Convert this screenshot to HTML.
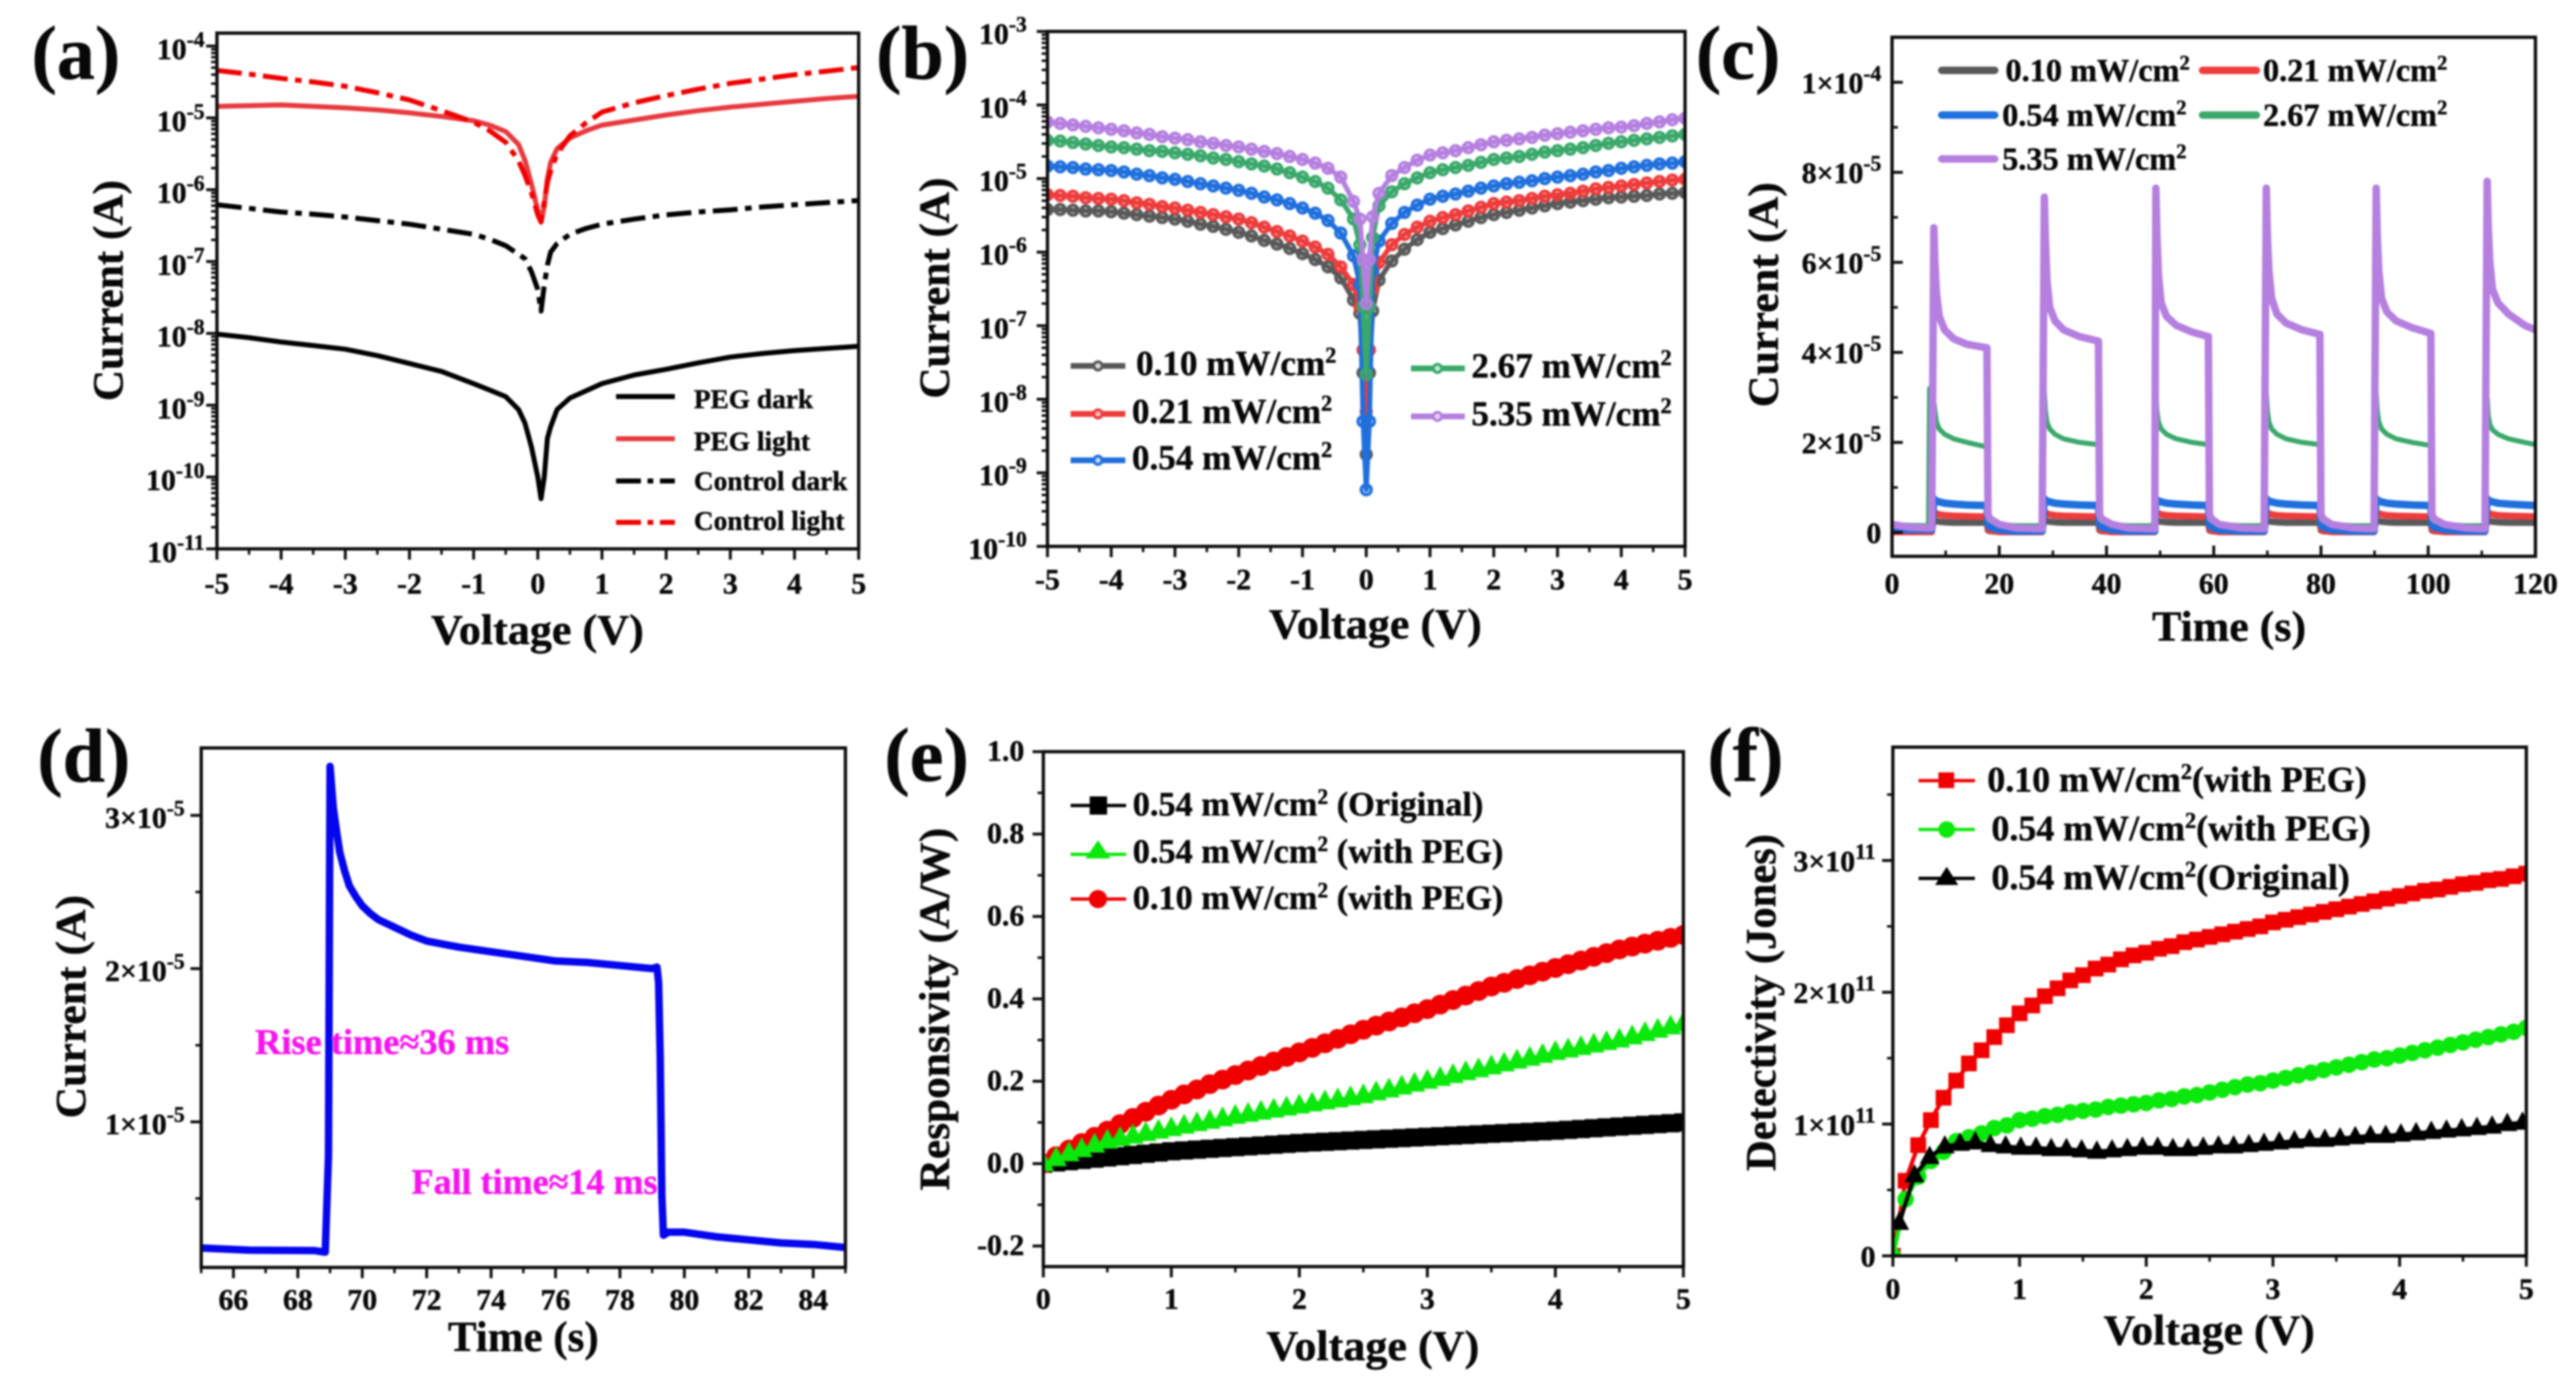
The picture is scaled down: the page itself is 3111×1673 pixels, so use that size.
<!DOCTYPE html>
<html lang="en">
<head>
<meta charset="utf-8">
<title>Photodetector characteristics, panels a to f</title>
<style>
  html, body { margin: 0; padding: 0; background: #fff; width: 3111px; height: 1673px; overflow: hidden; }
  svg { display: block; filter: blur(1.1px); }
  text { font-family: "Liberation Serif", serif; font-weight: 700; fill: #080808; stroke: #080808; stroke-width: 0.5px; }
  .panel-label { font-size: 92px; }
  .axis-title { font-size: 52px; }
  .tick-label { font-size: 36px; }
  .note { fill: #f614ee; stroke: #f614ee; }
</style>
</head>
<body>
<svg id="figure" xmlns="http://www.w3.org/2000/svg" width="3111" height="1673" viewBox="0 0 3111 1673">
  <rect x="0" y="0" width="3111" height="1673" fill="#fff"/>

  <g id="panel-a"></g>
  <g id="panel-b"></g>
  <g id="panel-c"></g>
  <g id="panel-d"></g>
  <g id="panel-e"></g>
  <g id="panel-f"></g>

  <!-- Panel labels -->
  <text class="panel-label" x="38" y="95">(a)</text>
  <text class="panel-label" x="1058" y="95">(b)</text>
  <text class="panel-label" x="2048" y="95">(c)</text>
  <text class="panel-label" x="45" y="944">(d)</text>
  <text class="panel-label" x="1068" y="943">(e)</text>
  <text class="panel-label" x="2062" y="943">(f)</text>

  <!-- Axis titles -->
  <text class="axis-title" x="649" y="778" text-anchor="middle" textLength="257" lengthAdjust="spacingAndGlyphs">Voltage (V)</text>
  <text class="axis-title" transform="translate(148 351) rotate(-90)" text-anchor="middle" textLength="267" lengthAdjust="spacingAndGlyphs">Current (A)</text>
  <text class="axis-title" x="1661" y="771" text-anchor="middle" textLength="257" lengthAdjust="spacingAndGlyphs">Voltage (V)</text>
  <text class="axis-title" transform="translate(1146 348) rotate(-90)" text-anchor="middle" textLength="267" lengthAdjust="spacingAndGlyphs">Current (A)</text>
  <text class="axis-title" x="2692" y="774" text-anchor="middle" textLength="186" lengthAdjust="spacingAndGlyphs">Time (s)</text>
  <text class="axis-title" transform="translate(2147 356) rotate(-90)" text-anchor="middle" textLength="272" lengthAdjust="spacingAndGlyphs">Current (A)</text>
  <text class="axis-title" x="632" y="1632" text-anchor="middle" textLength="182" lengthAdjust="spacingAndGlyphs">Time (s)</text>
  <text class="axis-title" transform="translate(103 1216) rotate(-90)" text-anchor="middle" textLength="270" lengthAdjust="spacingAndGlyphs">Current (A)</text>
  <text class="axis-title" x="1658" y="1643" text-anchor="middle" textLength="257" lengthAdjust="spacingAndGlyphs">Voltage (V)</text>
  <text class="axis-title" transform="translate(1146 1219) rotate(-90)" text-anchor="middle" textLength="438" lengthAdjust="spacingAndGlyphs">Responsivity (A/W)</text>
  <text class="axis-title" x="2668" y="1624" text-anchor="middle" textLength="255" lengthAdjust="spacingAndGlyphs">Voltage (V)</text>
  <text class="axis-title" transform="translate(2144 1211) rotate(-90)" text-anchor="middle" textLength="407" lengthAdjust="spacingAndGlyphs">Detectivity (Jones)</text>

  <!-- Legend a -->
  <g>
    <line x1="744" y1="479" x2="815" y2="479" stroke="#000" stroke-width="6"/>
    <text x="838" y="493" font-size="33">PEG dark</text>
    <line x1="744" y1="530" x2="815" y2="530" stroke="#e8393f" stroke-width="6"/>
    <text x="838" y="544" font-size="33">PEG light</text>
    <line x1="744" y1="581" x2="815" y2="581" stroke="#000" stroke-width="6" stroke-dasharray="30 8 7 8"/>
    <text x="838" y="592" font-size="33">Control dark</text>
    <line x1="744" y1="631" x2="815" y2="631" stroke="#f00000" stroke-width="6" stroke-dasharray="30 8 7 8"/>
    <text x="838" y="640" font-size="33">Control light</text>
  </g>

  <!-- Legend b -->
  <g>
    <line x1="1293" y1="442" x2="1359" y2="442" stroke="#595959" stroke-width="7"/>
    <circle cx="1326" cy="442" r="5" fill="#ddd" stroke="#595959" stroke-width="3.5"/>
    <text x="1372" y="453" font-size="42.4">0.10 mW/cm<tspan font-size="27" dy="-15">2</tspan></text>
    <line x1="1293" y1="500" x2="1359" y2="500" stroke="#ee3b3b" stroke-width="7"/>
    <circle cx="1326" cy="500" r="5" fill="#fbb" stroke="#ee3b3b" stroke-width="3.5"/>
    <text x="1367" y="511" font-size="42.4">0.21 mW/cm<tspan font-size="27" dy="-15">2</tspan></text>
    <line x1="1293" y1="556" x2="1359" y2="556" stroke="#1f6fdd" stroke-width="7"/>
    <circle cx="1326" cy="556" r="5" fill="#bcd6f8" stroke="#1f6fdd" stroke-width="3.5"/>
    <text x="1367" y="567" font-size="42.4">0.54 mW/cm<tspan font-size="27" dy="-15">2</tspan></text>
    <line x1="1704" y1="445" x2="1769" y2="445" stroke="#3aa86b" stroke-width="7"/>
    <circle cx="1736" cy="445" r="5" fill="#c2ead4" stroke="#3aa86b" stroke-width="3.5"/>
    <text x="1777" y="456" font-size="42.4">2.67 mW/cm<tspan font-size="27" dy="-15">2</tspan></text>
    <line x1="1704" y1="503" x2="1769" y2="503" stroke="#b57fe0" stroke-width="7"/>
    <circle cx="1736" cy="503" r="5" fill="#e7d5f6" stroke="#b57fe0" stroke-width="3.5"/>
    <text x="1777" y="514" font-size="42.4">5.35 mW/cm<tspan font-size="27" dy="-15">2</tspan></text>
  </g>

  <!-- Legend c -->
  <g>
    <line x1="2345" y1="85" x2="2409" y2="85" stroke="#595959" stroke-width="9" stroke-linecap="round"/>
    <text x="2422" y="98" font-size="39">0.10 mW/cm<tspan font-size="25" dy="-14">2</tspan></text>
    <line x1="2660" y1="85" x2="2725" y2="85" stroke="#ee3b3b" stroke-width="9" stroke-linecap="round"/>
    <text x="2733" y="98" font-size="39">0.21 mW/cm<tspan font-size="25" dy="-14">2</tspan></text>
    <line x1="2345" y1="139" x2="2409" y2="139" stroke="#1f6fdd" stroke-width="9" stroke-linecap="round"/>
    <text x="2418" y="152" font-size="39">0.54 mW/cm<tspan font-size="25" dy="-14">2</tspan></text>
    <line x1="2660" y1="139" x2="2725" y2="139" stroke="#3aa86b" stroke-width="9" stroke-linecap="round"/>
    <text x="2733" y="152" font-size="39">2.67 mW/cm<tspan font-size="25" dy="-14">2</tspan></text>
    <line x1="2345" y1="192" x2="2409" y2="192" stroke="#b57fe0" stroke-width="9" stroke-linecap="round"/>
    <text x="2418" y="205" font-size="39">5.35 mW/cm<tspan font-size="25" dy="-14">2</tspan></text>
  </g>

  <!-- Panel d annotations -->
  <text class="note" x="308" y="1273" font-size="43" textLength="307" lengthAdjust="spacingAndGlyphs">Rise time≈36 ms</text>
  <text class="note" x="497" y="1442" font-size="43" textLength="297" lengthAdjust="spacingAndGlyphs">Fall time≈14 ms</text>

  <!-- Legend e -->
  <g>
    <line x1="1293" y1="973" x2="1360" y2="973" stroke="#000" stroke-width="4"/>
    <rect x="1316" y="962" width="21" height="22" fill="#000"/>
    <text x="1368" y="985" font-size="41.4">0.54 mW/cm<tspan font-size="26" dy="-14">2</tspan><tspan dy="14"> (Original)</tspan></text>
    <line x1="1293" y1="1032" x2="1360" y2="1032" stroke="#0be80b" stroke-width="4"/>
    <polygon points="1326,1015 1341,1037 1311,1037" fill="#0be80b"/>
    <text x="1368" y="1042" font-size="41.4">0.54 mW/cm<tspan font-size="26" dy="-14">2</tspan><tspan dy="14"> (with PEG)</tspan></text>
    <line x1="1293" y1="1086" x2="1360" y2="1086" stroke="#f00000" stroke-width="4"/>
    <circle cx="1326" cy="1086" r="11" fill="#f00000"/>
    <text x="1368" y="1098" font-size="41.4">0.10 mW/cm<tspan font-size="26" dy="-14">2</tspan><tspan dy="14"> (with PEG)</tspan></text>
  </g>

  <!-- Legend f -->
  <g>
    <line x1="2317" y1="943" x2="2385" y2="943" stroke="#f00000" stroke-width="4"/>
    <rect x="2341" y="933" width="19" height="19" fill="#f00000"/>
    <text x="2400" y="956" font-size="43.4">0.10 mW/cm<tspan font-size="27" dy="-15">2</tspan><tspan dy="15">(with PEG)</tspan></text>
    <line x1="2317" y1="1002" x2="2385" y2="1002" stroke="#0be80b" stroke-width="4"/>
    <circle cx="2351" cy="1002" r="10" fill="#0be80b"/>
    <text x="2405" y="1015" font-size="43.4">0.54 mW/cm<tspan font-size="27" dy="-15">2</tspan><tspan dy="15">(with PEG)</tspan></text>
    <line x1="2317" y1="1061" x2="2385" y2="1061" stroke="#000" stroke-width="4"/>
    <polygon points="2351,1047 2365,1069 2337,1069" fill="#000"/>
    <text x="2405" y="1074" font-size="43.4">0.54 mW/cm<tspan font-size="27" dy="-15">2</tspan><tspan dy="15">(Original)</tspan></text>
  </g>
</svg>

<script>
/* ---------- Panel a: log10(current) versus voltage ---------- */
const aVolts = [-5,-4.5,-4,-3.5,-3,-2.5,-2,-1.5,-1,-.75,-.5,-.3,-.2,-.1,0,.05,.1,.15,.2,.3,.5,.75,1,1.5,2,2.5,3,3.5,4,4.5,5];
const aPegDarkLog = [-8.01,-8.06,-8.12,-8.17,-8.22,-8.31,-8.42,-8.53,-8.7,-8.79,-8.88,-9.06,-9.25,-9.58,-10,-10.3,-10,-9.46,-9.3,-9.06,-8.9,-8.8,-8.7,-8.58,-8.5,-8.41,-8.33,-8.28,-8.24,-8.21,-8.18];
const aPegLightLog = [-4.84,-4.83,-4.82,-4.84,-4.86,-4.89,-4.93,-4.98,-5.04,-5.1,-5.19,-5.37,-5.59,-5.92,-6.29,-6.45,-6.23,-5.85,-5.62,-5.43,-5.28,-5.18,-5.1,-5.03,-4.96,-4.9,-4.85,-4.81,-4.77,-4.73,-4.7];
const aControlDarkLog = [-6.21,-6.26,-6.31,-6.34,-6.38,-6.43,-6.48,-6.55,-6.62,-6.69,-6.78,-6.9,-6.96,-7.14,-7.39,-7.69,-7.33,-7.05,-6.87,-6.75,-6.62,-6.54,-6.48,-6.41,-6.35,-6.31,-6.28,-6.24,-6.21,-6.18,-6.15];
const aControlLightLog = [-4.34,-4.39,-4.45,-4.5,-4.56,-4.65,-4.75,-4.9,-5.06,-5.18,-5.34,-5.6,-5.8,-6.04,-6.35,-6.45,-6.17,-5.9,-5.74,-5.5,-5.25,-5.07,-4.92,-4.79,-4.69,-4.6,-4.52,-4.46,-4.4,-4.35,-4.3];
const aYTickExponents = [-4,-5,-6,-7,-8,-9,-10,-11];
const vTicksFull = [-5,-4,-3,-2,-1,0,1,2,3,4,5];
const vMinorFull = [-4.5,-3.5,-2.5,-1.5,-.5,.5,1.5,2.5,3.5,4.5];

/* ---------- Panel b: log10(current) versus voltage, five irradiances ---------- */
const bVolts = [-5,-4.8,-4.6,-4.4,-4.2,-4,-3.8,-3.6,-3.4,-3.2,-3,-2.8,-2.6,-2.4,-2.2,-2,-1.8,-1.6,-1.4,-1.2,-1,-.8,-.6,-.4,-.2,
  -.1,-.05,0,.05,.1,
  .2,.4,.6,.8,1,1.2,1.4,1.6,1.8,2,2.2,2.4,2.6,2.8,3,3.2,3.4,3.6,3.8,4,4.2,4.4,4.6,4.8,5];
const bP010Log = [-5.42,-5.42,-5.43,-5.44,-5.44,-5.45,-5.47,-5.49,-5.51,-5.53,-5.55,-5.58,-5.62,-5.65,-5.69,-5.73,-5.78,-5.84,-5.89,-5.95,-6.02,-6.1,-6.2,-6.35,-6.65,
  -6.83,-7.64,-8.75,-7.64,-6.8,
  -6.38,-6.12,-5.96,-5.83,-5.73,-5.68,-5.63,-5.58,-5.53,-5.49,-5.46,-5.43,-5.4,-5.37,-5.34,-5.32,-5.3,-5.28,-5.26,-5.25,-5.24,-5.23,-5.21,-5.2,-5.19];
const bP021Log = [-5.22,-5.23,-5.24,-5.26,-5.27,-5.28,-5.3,-5.33,-5.35,-5.38,-5.4,-5.43,-5.46,-5.49,-5.52,-5.55,-5.6,-5.66,-5.72,-5.78,-5.85,-5.93,-6.03,-6.2,-6.44,
  -6.74,-7.33,-8.17,-7.33,-6.5,
  -6.14,-5.9,-5.76,-5.66,-5.58,-5.53,-5.49,-5.44,-5.39,-5.34,-5.32,-5.3,-5.27,-5.24,-5.22,-5.2,-5.17,-5.14,-5.12,-5.1,-5.08,-5.06,-5.04,-5.02,-5.01];
const bP054Log = [-4.83,-4.84,-4.85,-4.87,-4.88,-4.89,-4.91,-4.94,-4.96,-4.99,-5.01,-5.04,-5.07,-5.1,-5.13,-5.16,-5.2,-5.25,-5.29,-5.34,-5.4,-5.47,-5.57,-5.74,-6.05,
  -6.44,-8.3,-9.23,-8.3,-6.26,
  -5.85,-5.61,-5.46,-5.36,-5.28,-5.24,-5.21,-5.17,-5.13,-5.1,-5.07,-5.05,-5.03,-5,-4.98,-4.96,-4.94,-4.91,-4.89,-4.86,-4.84,-4.82,-4.8,-4.79,-4.77];
const bP267Log = [-4.48,-4.49,-4.51,-4.53,-4.55,-4.57,-4.58,-4.6,-4.62,-4.63,-4.65,-4.67,-4.69,-4.72,-4.74,-4.77,-4.8,-4.83,-4.87,-4.92,-4.98,-5.04,-5.13,-5.29,-5.55,
  -5.9,-6.74,-7.66,-6.74,-5.8,
  -5.37,-5.18,-5.07,-4.99,-4.92,-4.88,-4.85,-4.82,-4.78,-4.74,-4.72,-4.7,-4.67,-4.64,-4.62,-4.6,-4.58,-4.55,-4.52,-4.5,-4.48,-4.46,-4.44,-4.42,-4.4];
const bP535Log = [-4.23,-4.25,-4.27,-4.29,-4.31,-4.33,-4.35,-4.38,-4.4,-4.43,-4.45,-4.47,-4.5,-4.52,-4.55,-4.57,-4.6,-4.63,-4.66,-4.7,-4.74,-4.79,-4.86,-4.98,-5.31,
  -5.55,-6.1,-6.7,-6.1,-5.52,
  -5.2,-4.96,-4.85,-4.75,-4.68,-4.65,-4.62,-4.58,-4.54,-4.5,-4.48,-4.46,-4.44,-4.41,-4.39,-4.37,-4.35,-4.33,-4.31,-4.3,-4.28,-4.25,-4.23,-4.2,-4.18];
const bYTickExponents = [-3,-4,-5,-6,-7,-8,-9,-10];

/* ---------- Panel c: current (microamps) versus time, on/off cycles ---------- */
const cTime = [0,3,6.8,7,7.4,7.8,8,8.3,8.8,9.8,11.5,14,17.7,17.9,18.3,20,23,28,
  28.4,28.6,28.9,29.4,30.4,32,35,38.5,38.7,39.1,41,44,49,
  49.2,49.4,49.7,50.2,51.2,53,56,59,59.2,59.6,61,65,69.4,
  69.8,70,70.3,70.8,71.8,73.5,76.5,79.8,80,80.4,82,86,89.9,
  90.3,90.5,90.8,91.3,92.3,94,97,100.5,100.7,101.1,103,107,110.6,
  111,111.2,111.5,112,113,115,118,120];
const cP010 = [.2,.2,.2,.2,.2,3,2.7,2.5,2.4,2.3,2.2,2.2,2.2,.5,.3,.2,.2,.2,
  3,2.7,2.5,2.4,2.3,2.2,2.2,2.2,.5,.3,.2,.2,.2,
  3,2.7,2.5,2.4,2.3,2.2,2.2,2.2,.5,.3,.2,.2,.2,
  3,2.7,2.5,2.4,2.3,2.2,2.2,2.2,.5,.3,.2,.2,.2,
  3,2.7,2.5,2.4,2.3,2.2,2.2,2.2,.5,.3,.2,.2,.2,
  3,2.7,2.5,2.4,2.3,2.2,2.2,2.2];
const cP021 = [.1,.1,.1,.1,.1,4.6,4.4,4.2,4,3.8,3.7,3.6,3.5,.8,.4,.1,.1,.1,
  4.6,4.4,4.2,4,3.8,3.7,3.6,3.5,.8,.4,.1,.1,.1,
  4.6,4.4,4.2,4,3.8,3.7,3.6,3.5,.8,.4,.1,.1,.1,
  4.6,4.4,4.2,4,3.8,3.7,3.6,3.5,.8,.4,.1,.1,.1,
  4.6,4.4,4.2,4,3.8,3.7,3.6,3.5,.8,.4,.1,.1,.1,
  4.6,4.4,4.2,4,3.8,3.7,3.6,3.5];
const cP054 = [.6,.6,.6,.6,.6,7.5,7.2,7,6.8,6.5,6.3,6.1,6,1.8,1.2,.6,.3,.3,
  7.5,7.2,7,6.8,6.5,6.3,6.1,6,1.8,1.2,.6,.3,.3,
  7.5,7.2,7,6.8,6.5,6.3,6.1,6,1.8,1.2,.6,.3,.3,
  7.5,7.2,7,6.8,6.5,6.3,6.1,6,1.8,1.2,.6,.3,.3,
  7.5,7.2,7,6.8,6.5,6.3,6.1,6,1.8,1.2,.6,.3,.3,
  7.5,7.2,7,6.8,6.5,6.3,6.1,6];
const cP267 = [1.8,1.6,1.5,32,31,29,27,24.5,23,21.8,20.8,20,19,3,2.5,1.8,1.5,1.5,
  31.5,27,24.5,23,21.8,20.8,20,19.5,3,2.5,1.8,1.5,1.5,
  32,27,24.5,23,21.8,20.8,20,19.5,3,2.5,1.8,1.5,1.5,
  31,27,24.5,23,21.8,20.8,20,19.5,3,2.5,1.8,1.5,1.5,
  31,27,24.5,23,21.8,20.8,20,19.3,3,2.5,1.8,1.5,1.5,
  30,26,24,22.8,21.8,20.8,20,19.5];
const cP535 = [1.8,1.2,1,1,1,67.7,60,53,48,45,43,41.8,41,4,3,1.8,1,.8,
  74.5,65,56,50,47,45,43.5,42.5,4,3,1.8,1,.8,
  76.5,66,57,51,48,46,44.5,43.5,4,3,1.8,1,.8,
  76.5,66,58,52,48.5,46.5,45,44,4,3,1.8,1,.8,
  76.5,66,58,52,49,47,45.5,44.2,4,3,1.8,1,.8,
  78,68,60,54,51,48.5,46,45];
const cXTicks = [0,20,40,60,80,100,120];
const cXMinor = [10,30,50,70,90,110];
const cYTicks = [0,20,40,60,80,100];
const cYTickText = ["0","2×10","4×10","6×10","8×10","1×10"];
const cYTickSup = ["","-5","-5","-5","-5","-4"];
const cYMinor = [10,30,50,70,90];

/* ---------- Panel d: single pulse, current in units of 1e-5 A ---------- */
const dTime = [65,66.5,68.5,68.85,68.95,69,69.1,69.2,69.3,69.45,69.6,69.8,70,70.25,70.5,70.75,71,71.5,72,72.5,73,74,75,76,77,78,79,79.15,79.2,79.25,79.3,79.35,79.5,80,81,82,83,84,85];
const dCurrent = [.177,.163,.16,.15,.78,3.32,3.05,2.9,2.76,2.64,2.54,2.47,2.41,2.36,2.32,2.295,2.27,2.22,2.18,2.16,2.14,2.11,2.08,2.05,2.04,2.02,2,2.01,1.91,1.43,.52,.26,.28,.28,.25,.23,.21,.2,.18];
const dXTicks = [66,68,70,72,74,76,78,80,82,84];
const dXMinor = [65,67,69,71,73,75,77,79,81,83,85];
const dYTicks = [1,2,3];
const dYMinor = [.5,1.5,2.5];

/* ---------- Panel e: responsivity versus voltage ---------- */
const fineVolts = [0,.1,.2,.3,.4,.5,.6,.7,.8,.9,1,1.1,1.2,1.3,1.4,1.5,1.6,1.7,1.8,1.9,2,2.1,2.2,2.3,2.4,2.5,2.6,2.7,2.8,2.9,3,3.1,3.2,3.3,3.4,3.5,3.6,3.7,3.8,3.9,4,4.1,4.2,4.3,4.4,4.5,4.6,4.7,4.8,4.9,5];
const eOriginal = [0,.003,.006,.009,.012,.015,.018,.021,.024,.027,.03,.032,.034,.036,.038,.04,.042,.044,.046,.048,.05,.0515,.053,.0545,.056,.0575,.059,.0605,.062,.0635,.065,.0665,.068,.0695,.071,.0725,.074,.0755,.077,.0785,.08,.082,.084,.086,.088,.09,.092,.094,.096,.098,.1];
const ePeg054 = [0,.012,.024,.034,.045,.055,.061,.067,.073,.079,.085,.091,.097,.103,.109,.115,.12,.125,.13,.135,.14,.145,.15,.155,.16,.165,.172,.179,.186,.193,.2,.207,.214,.221,.228,.235,.242,.249,.256,.263,.27,.276,.282,.288,.294,.3,.308,.316,.324,.332,.34];
const ePeg010 = [0,.018,.034,.05,.065,.08,.096,.111,.126,.141,.155,.168,.18,.193,.204,.215,.226,.237,.248,.259,.27,.281,.292,.303,.314,.325,.335,.345,.355,.365,.375,.386,.397,.408,.419,.43,.439,.448,.457,.466,.475,.484,.493,.502,.511,.52,.527,.534,.541,.548,.555];
const eXTicks = [0,1,2,3,4,5];
const eXMinor = [.5,1.5,2.5,3.5,4.5];
const eYTicks = [-.2,0,.2,.4,.6,.8,1];
const eYTickText = ["-0.2","0.0","0.2","0.4","0.6","0.8","1.0"];
const eYMinor = [-.1,.1,.3,.5,.7,.9];

/* ---------- Panel f: detectivity (units of 1e11 Jones) versus voltage ---------- */
const fPeg010 = [0,.57,.84,1.03,1.2,1.33,1.46,1.56,1.66,1.75,1.84,1.9,1.97,2.03,2.09,2.13,2.18,2.21,2.25,2.28,2.3,2.33,2.35,2.38,2.4,2.42,2.44,2.46,2.48,2.5,2.53,2.55,2.57,2.59,2.61,2.63,2.65,2.67,2.69,2.71,2.73,2.75,2.77,2.78,2.8,2.82,2.83,2.85,2.86,2.88,2.9];
const fPeg054 = [0,.43,.6,.72,.79,.87,.9,.93,.97,.99,1.03,1.04,1.06,1.07,1.09,1.1,1.11,1.13,1.14,1.15,1.16,1.18,1.19,1.21,1.22,1.24,1.26,1.28,1.3,1.31,1.33,1.35,1.37,1.39,1.41,1.43,1.45,1.47,1.49,1.5,1.52,1.54,1.56,1.58,1.6,1.62,1.64,1.66,1.68,1.7,1.73];
const fOriginalVolts = [.05,.17,.29,.41,.53,.65,.77,.89,1.01,1.13,1.25,1.37,1.49,1.61,1.73,1.85,1.97,2.09,2.21,2.33,2.45,2.57,2.69,2.81,2.93,3.05,3.17,3.29,3.41,3.53,3.65,3.77,3.89,4.01,4.13,4.25,4.37,4.49,4.61,4.73,4.85,4.97];
const fOriginal = [.25,.61,.75,.83,.85,.86,.84,.83,.82,.82,.81,.81,.8,.79,.8,.81,.82,.82,.81,.81,.82,.83,.83,.84,.85,.86,.87,.88,.88,.89,.9,.91,.91,.92,.93,.94,.95,.96,.97,.98,1,1.01];
const fYTicks = [0,1,2,3];
const fYMinor = [.5,1.5,2.5,3.5];

/* ---------- Drawing helpers ---------- */
const NS = 'http://www.w3.org/2000/svg';
const INK = '#0d0d0d';

function make(tag, name, parent) {
  const el = document.createElementNS(NS, tag);
  
  
  parent.appendChild(el);
  return el;
}
function setAll(el, props) {
  for (const k in props) el.setAttribute(k, props[k]);
  return el;
}
function linear(d0, d1, r0, r1) {
  return v => r0 + (v - d0) * (r1 - r0) / (d1 - d0);
}
function buildPanel(id, box, xDomain, yDomain) {
  const g = document.getElementById(id);
  const x = linear(xDomain[0], xDomain[1], box.left, box.right);
  const y = linear(yDomain[0], yDomain[1], box.bottom, box.top);
  const clip = make('clipPath', id + '-clip', g);
  clip.setAttribute('id', id + '-clip');
  const clipRect = make('rect', id + '-clip-rect', clip);
  setAll(clipRect, {x: box.left, y: box.top, width: box.right - box.left, height: box.bottom - box.top});
  const plot = make('g', id + '-plot-area', g);
  plot.setAttribute('clip-path', 'url(#' + id + '-clip)');
  return {g, plot, x, y, box};
}
function drawFrame(p) {
  const r = make('rect', p.g.id + '-frame', p.g);
  setAll(r, {x: p.box.left, y: p.box.top, width: p.box.right - p.box.left, height: p.box.bottom - p.box.top, fill: 'none', stroke: INK, 'stroke-width': 4});
}
function drawLine(p, name, xs, ys, color, width, dash) {
  const pl = make('polyline', name, p.plot);
  const pts = xs.map((v, i) => p.x(v).toFixed(1) + ',' + p.y(ys[i]).toFixed(1)).join(' ');
  setAll(pl, {points: pts, fill: 'none', stroke: color, 'stroke-width': width, 'stroke-linejoin': 'round'});
  if (dash) pl.setAttribute('stroke-dasharray', dash);
}
function drawMarkers(p, name, kind, xs, ys, size, color, hollow) {
  xs.forEach((v, i) => {
    const cx = p.x(v), cy = p.y(ys[i]);
    let m;
    if (kind === 'circle') {
      m = make('circle', name, p.plot);
      setAll(m, {cx: cx, cy: cy, r: size});
    } else if (kind === 'square') {
      m = make('rect', name, p.plot);
      setAll(m, {x: cx - size, y: cy - size, width: size * 2, height: size * 2});
    } else {
      m = make('polygon', name, p.plot);
      m.setAttribute('points', cx + ',' + (cy - size * 1.15) + ' ' + (cx + size) + ',' + (cy + size * .7) + ' ' + (cx - size) + ',' + (cy + size * .7));
    }
    if (hollow) setAll(m, {fill: 'none', stroke: color, 'stroke-width': 4});
    else m.setAttribute('fill', color);
  });
}
function tickMark(p, name, x1, y1, x2, y2, width) {
  const t = make('line', name, p.g);
  setAll(t, {x1: x1, y1: y1, x2: x2, y2: y2, stroke: INK, 'stroke-width': width});
}
function xAxis(p, majors, minors, labels, baseline, dir) {
  const y0 = p.box.bottom;
  majors.forEach((v, i) => {
    tickMark(p, 'x-tick', p.x(v), y0, p.x(v), y0 + dir * 13, 3.5);
    const t = make('text', 'x-tick-label', p.g);
    setAll(t, {x: p.x(v), y: baseline, 'text-anchor': 'middle', class: 'tick-label'});
    t.textContent = labels[i];
  });
  minors.forEach(v => tickMark(p, 'x-minor-tick', p.x(v), y0, p.x(v), y0 + dir * 7, 3));
}
function yAxis(p, majors, minors, bases, sups, labelRight, baselineOffset, dir) {
  const x0 = p.box.left;
  majors.forEach((v, i) => {
    tickMark(p, 'y-tick', x0, p.y(v), x0 - dir * 13, p.y(v), 3.5);
    const t = make('text', 'y-tick-label', p.g);
    setAll(t, {x: labelRight, y: p.y(v) + baselineOffset, 'text-anchor': 'end', class: 'tick-label'});
    t.textContent = bases[i];
    if (sups[i]) {
      const s = make('tspan', 'y-tick-exponent', t);
      setAll(s, {'font-size': 26, dy: -15});
      s.textContent = sups[i];
    }
  });
  minors.forEach(v => tickMark(p, 'y-minor-tick', x0, p.y(v), x0 - dir * 7, p.y(v), 3));
}
const LOG_MINORS = [2,3,4,5,6,7,8,9];
function logMinorTicks(exponents) {
  const out = [];
  exponents.slice(1).forEach(e => LOG_MINORS.forEach(m => out.push(e + Math.log10(m))));
  return out;
}

/* ---------- Panel a ---------- */
const panelA = buildPanel('panel-a', {left: 262, right: 1037, top: 40, bottom: 663}, [-5, 5], [-11, -3.82]);
drawLine(panelA, 'curve-peg-dark', aVolts, aPegDarkLog, '#000', 6);
drawLine(panelA, 'curve-control-dark', aVolts, aControlDarkLog, '#000', 6, '30 9 8 9');
drawLine(panelA, 'curve-peg-light', aVolts, aPegLightLog, '#e8393f', 6);
drawLine(panelA, 'curve-control-light', aVolts, aControlLightLog, '#f00000', 6, '30 9 8 9');
xAxis(panelA, vTicksFull, vMinorFull, vTicksFull.map(String), 717, 1);
yAxis(panelA, aYTickExponents, logMinorTicks(aYTickExponents), aYTickExponents.map(() => '10'), aYTickExponents.map(String), 247, 16, 1);
drawFrame(panelA);

/* ---------- Panel b ---------- */
const panelB = buildPanel('panel-b', {left: 1265, right: 2035, top: 38, bottom: 660}, [-5, 5], [-10, -3]);
[['0-10', bP010Log, '#595959'], ['0-21', bP021Log, '#ee3b3b'], ['0-54', bP054Log, '#1f6fdd'], ['2-67', bP267Log, '#3aa86b'], ['5-35', bP535Log, '#b57fe0']].forEach(s => {
  drawLine(panelB, 'curve-b-' + s[0], bVolts, s[1], s[2], 6);
  drawMarkers(panelB, 'point-b-' + s[0], 'circle', bVolts, s[1], 6, s[2], true);
});
xAxis(panelB, vTicksFull, vMinorFull, vTicksFull.map(String), 712, 1);
yAxis(panelB, bYTickExponents, logMinorTicks(bYTickExponents), bYTickExponents.map(() => '10'), bYTickExponents.map(String), 1240, 15, 1);
drawFrame(panelB);

/* ---------- Panel c ---------- */
const panelC = buildPanel('panel-c', {left: 2285, right: 3062, top: 45, bottom: 672}, [0, 120], [-5.3, 110]);
drawLine(panelC, 'curve-c-0-10', cTime, cP010, '#595959', 8);
drawLine(panelC, 'curve-c-0-21', cTime, cP021, '#ee3b3b', 8);
drawLine(panelC, 'curve-c-0-54', cTime, cP054, '#1f6fdd', 9);
drawLine(panelC, 'curve-c-2-67', cTime, cP267, '#3aa86b', 6);
drawLine(panelC, 'curve-c-5-35', cTime, cP535, '#b57fe0', 9);
xAxis(panelC, cXTicks, cXMinor, cXTicks.map(String), 717, -1);
yAxis(panelC, cYTicks, cYMinor, cYTickText, cYTickSup, 2272, 13, -1);
drawFrame(panelC);

/* ---------- Panel d ---------- */
const panelD = buildPanel('panel-d', {left: 243, right: 1021, top: 903.5, bottom: 1531}, [65, 85], [.05, 3.44]);
drawLine(panelD, 'curve-d-pulse', dTime, dCurrent, '#0505ee', 9);
xAxis(panelD, dXTicks, dXMinor, dXTicks.map(String), 1582, 1);
yAxis(panelD, dYTicks, dYMinor, dYTicks.map(v => v + '×10'), dYTicks.map(() => '-5'), 223, 15, 1);
drawFrame(panelD);

/* ---------- Panel e ---------- */
const panelE = buildPanel('panel-e', {left: 1260, right: 2033, top: 908, bottom: 1530}, [0, 5], [-.25, 1]);
drawLine(panelE, 'curve-e-original', fineVolts, eOriginal, '#000', 4);
drawMarkers(panelE, 'point-e-original', 'square', fineVolts, eOriginal, 11, '#000', false);
drawLine(panelE, 'curve-e-peg-0-10', fineVolts, ePeg010, '#f00000', 4);
drawMarkers(panelE, 'point-e-peg-0-10', 'circle', fineVolts, ePeg010, 12, '#f00000', false);
drawLine(panelE, 'curve-e-peg-0-54', fineVolts, ePeg054, '#0be80b', 4);
drawMarkers(panelE, 'point-e-peg-0-54', 'triangle', fineVolts, ePeg054, 13, '#0be80b', false);
xAxis(panelE, eXTicks, eXMinor, eXTicks.map(String), 1581, 1);
yAxis(panelE, eYTicks, eYMinor, eYTickText, eYTicks.map(() => ''), 1237, 11, 1);
drawFrame(panelE);

/* ---------- Panel f ---------- */
const panelF = buildPanel('panel-f', {left: 2286, right: 3051, top: 902.5, bottom: 1517}, [0, 5], [0, 3.86]);
drawLine(panelF, 'curve-f-peg-0-10', fineVolts, fPeg010, '#f00000', 5);
drawMarkers(panelF, 'point-f-peg-0-10', 'square', fineVolts, fPeg010, 9.5, '#f00000', false);
drawLine(panelF, 'curve-f-peg-0-54', fineVolts, fPeg054, '#0be80b', 5);
drawMarkers(panelF, 'point-f-peg-0-54', 'circle', fineVolts, fPeg054, 10, '#0be80b', false);
drawLine(panelF, 'curve-f-original', fOriginalVolts, fOriginal, '#000', 5);
drawMarkers(panelF, 'point-f-original', 'triangle', fOriginalVolts, fOriginal, 12, '#000', false);
xAxis(panelF, eXTicks, eXMinor, eXTicks.map(String), 1569, 1);
yAxis(panelF, fYTicks, fYMinor, fYTicks.map(v => v === 0 ? '0' : v + '×10'), fYTicks.map(v => v === 0 ? '' : '11'), 2265, 13, 1);
drawFrame(panelF);
</script>
</body>
</html>
